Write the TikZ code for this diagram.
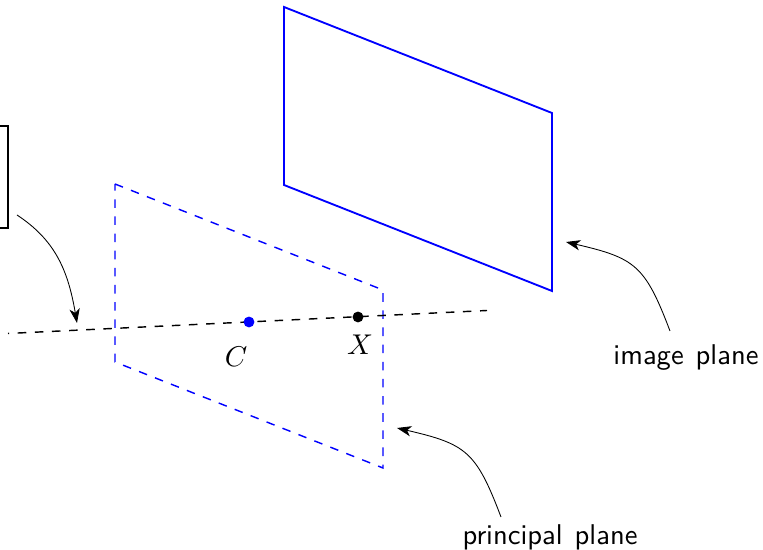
\documentclass[tikz,border=0pt]{standalone}
\usepackage{amsmath,amssymb}
\usepackage{tikz}
\usetikzlibrary{arrows.meta,positioning}
\renewcommand{\familydefault}{\sfdefault}
\begin{document}
\begin{tikzpicture}[
    x=0.35pt,y=-0.35pt,
    imgplane/.style={draw=blue,line width=0.65pt,line join=miter},
    prinplane/.style={draw=blue,line width=0.5pt,dashed},
    axisline/.style={draw=black,line width=0.5pt,dash pattern=on 3pt off 3pt,dash phase=2.6pt},
    callout/.style={-{Stealth[length=5pt,width=3.6pt,inset=1.4pt]},line width=0.3pt},
    ptdot/.style={circle,inner sep=0pt,minimum size=3.8pt},
    planelabel/.style={inner sep=0pt,anchor=base,font={\spaceskip=4.2pt}}
  ]
    \useasboundingbox (0,0) rectangle (763,550);
    % planes
    \coordinate (ia) at (284,7);
    \coordinate (ib) at (552,113);
    \coordinate (ic) at (552,291);
    \coordinate (id) at (284,185);
    \draw[imgplane] (ia) -- (ib) -- (ic) -- (id) -- cycle;
    \coordinate (pa) at (115,184);
    \coordinate (pb) at (383,290);
    \coordinate (pc) at (383,468);
    \coordinate (pd) at (115,362);
    \draw[prinplane] (pa) -- (pb) -- (pc) -- (pd) -- cycle;
    % principal axis
    \coordinate (axl) at (8,333.5);
    \coordinate (axr) at (487,310.5);
    \draw[axisline] (axl) -- (axr);
    \node[ptdot,fill=blue] (cdot) at (249,322) {};
    \node[ptdot,fill=black] (xdot) at (358,317) {};
    \node (clabel) at (236,357) {\(C\)};
    \node (xlabel) at (360,345) {\(X\)};
    % left box, cut by the page edge
    \coordinate (bl) at (-10,126);
    \coordinate (bm) at (8,126);
    \coordinate (bn) at (8,228);
    \coordinate (bo) at (-10,228);
    \draw[line width=0.6pt] (bl) -- (bm) -- (bn) -- (bo);
    % labels and their arrows
    \node[planelabel] (imglabel) at (686,365) {image plane};
    \node[planelabel] (prinlabel) at (550,545) {principal plane};
    \coordinate (boxend) at (17,215);
    \coordinate (axisend) at (77,323);
    \coordinate (imgstart) at (670,331);
    \coordinate (imgend) at (566,242);
    \coordinate (prinstart) at (501,517);
    \coordinate (prinend) at (397,428);
    \draw[callout] (boxend) .. controls (55,240) and (68,270) .. (axisend);
    \draw[callout] (imgstart) .. controls (645,265) and (635,258) .. (imgend);
    \draw[callout] (prinstart) .. controls (476,451) and (466,444) .. (prinend);
  \end{tikzpicture}
\end{document}
